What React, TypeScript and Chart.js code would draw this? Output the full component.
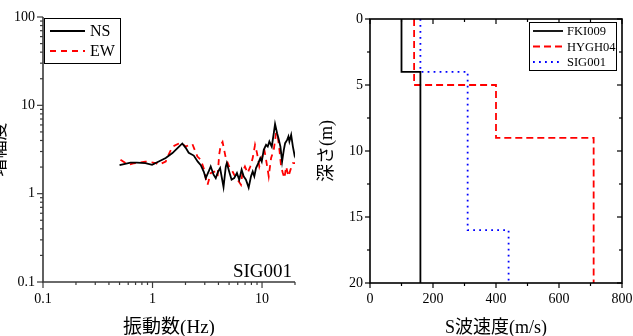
import React, { useEffect, useRef } from 'react';
import { Chart, registerables } from 'chart.js';

Chart.register(...registerables);

// ---------- Data: amplification spectra (SIG001) ----------
const NS_FREQ = [0.5, 0.63, 0.72, 0.86, 0.99, 1.14, 1.32, 1.52, 1.7, 1.87, 2.01, 2.14, 2.38, 2.59, 2.76, 2.94, 3.06, 3.28, 3.4, 3.61, 3.78, 3.97, 4.14, 4.45, 4.67, 4.77, 5.01, 5.27, 5.57, 5.9, 6.19, 6.51, 6.79, 7.13, 7.55, 7.93, 8.22, 8.5, 8.81, 9.25, 9.64, 9.94, 10.37, 10.89, 11.28, 11.67, 12.27, 12.8, 13.15, 13.73, 14.12, 14.72, 15.25, 15.81, 16.25, 16.95, 17.42, 17.78, 18.45, 19.13, 19.78, 20.0];
const NS_AMP = [2.1, 2.25, 2.25, 2.22, 2.12, 2.31, 2.53, 2.88, 3.3, 3.7, 3.3, 2.9, 2.7, 2.3, 2.1, 1.77, 1.5, 1.82, 2.03, 1.64, 1.5, 1.78, 1.95, 1.19, 2.03, 2.22, 1.78, 1.44, 1.5, 1.71, 1.44, 1.87, 1.57, 1.44, 1.17, 1.57, 1.78, 1.57, 1.95, 2.22, 2.53, 2.31, 3.13, 3.57, 3.41, 3.89, 3.41, 4.83, 6.15, 4.83, 4.25, 3.41, 2.31, 3.13, 3.73, 4.06, 4.43, 3.89, 4.63, 3.41, 2.75, 2.88];

const EW_FREQ = [0.51, 0.6, 0.67, 0.86, 1.07, 1.14, 1.32, 1.4, 1.52, 1.81, 2.01, 2.14, 2.31, 2.57, 2.76, 2.96, 3.06, 3.18, 3.4, 3.65, 3.93, 4.06, 4.2, 4.36, 4.51, 4.67, 5.01, 5.38, 5.57, 5.98, 6.42, 6.65, 6.98, 7.39, 7.81, 8.22, 8.63, 9.0, 9.45, 10.15, 10.5, 10.89, 11.51, 12.1, 12.8, 13.44, 13.93, 14.42, 14.94, 15.48, 16.03, 16.6, 17.42, 18.2, 19.13, 20.0];
const EW_AMP = [2.42, 2.12, 2.2, 2.31, 2.22, 2.12, 2.31, 2.75, 3.41, 3.79, 3.41, 3.55, 3.66, 2.63, 2.42, 1.87, 1.5, 1.26, 1.71, 1.78, 1.57, 2.75, 3.57, 3.85, 3.13, 2.53, 2.03, 1.78, 1.64, 1.44, 1.26, 1.78, 2.03, 1.71, 2.03, 2.53, 3.57, 2.88, 2.03, 2.75, 3.13, 2.42, 1.57, 2.53, 3.13, 4.9, 4.43, 3.13, 2.03, 1.71, 1.5, 2.03, 1.57, 1.87, 2.22, 2.22];

const FREQ_MAJOR = [0.1, 1, 10];
const FREQ_MINOR = [0.2, 0.3, 0.4, 0.5, 0.6, 0.7, 0.8, 0.9, 2, 3, 4, 5, 6, 7, 8, 9, 20];
const AMP_MAJOR = [0.1, 1, 10, 100];
const AMP_MINOR = [0.2, 0.3, 0.4, 0.5, 0.6, 0.7, 0.8, 0.9, 2, 3, 4, 5, 6, 7, 8, 9, 20, 30, 40, 50, 60, 70, 80, 90];

// ---------- Data: S-wave velocity profiles ----------
const FKI009_DEPTH = [0, 4, 20];
const FKI009_VS = [100, 160];
const HYGH04_DEPTH = [0, 5, 9, 20];
const HYGH04_VS = [140, 400, 710];
const SIG001_DEPTH = [0, 4, 16, 20];
const SIG001_VS = [160, 310, 440];

const VS_MAJOR = [0, 200, 400, 600, 800];
const VS_MINOR = [100, 300, 500, 700];
const DEPTH_MAJOR = [0, 5, 10, 15, 20];
const DEPTH_MINOR = [2.5, 7.5, 12.5, 17.5];

const FONT = "'Liberation Serif', 'Noto Sans CJK JP', serif";

function pairs(xs: number[], ys: number[]) {
  return xs.map((x, i) => ({ x, y: ys[i] }));
}

function stepProfile(depths: number[], vs: number[]) {
  const pts: { x: number; y: number }[] = [];
  vs.forEach((v, i) => {
    pts.push({ x: v, y: depths[i] });
    pts.push({ x: v, y: depths[i + 1] });
  });
  return pts;
}

function tickLine(ctx: CanvasRenderingContext2D, x1: number, y1: number, x2: number, y2: number) {
  ctx.beginPath();
  ctx.moveTo(x1, y1);
  ctx.lineTo(x2, y2);
  ctx.stroke();
}

function drawLegend(ctx: CanvasRenderingContext2D, chart: any, box: { x: number; y: number; w: number; h: number }, rows: number[], lineX: [number, number], textX: number, size: number) {
  ctx.save();
  ctx.fillStyle = '#fff';
  ctx.fillRect(box.x, box.y, box.w, box.h);
  ctx.strokeStyle = '#000';
  ctx.lineWidth = 1;
  ctx.strokeRect(box.x + 0.5, box.y + 0.5, box.w, box.h);
  chart.data.datasets.forEach((ds: any, i: number) => {
    const y = rows[i];
    ctx.strokeStyle = ds.borderColor;
    ctx.lineWidth = ds.borderWidth;
    ctx.setLineDash(ds.borderDash || []);
    tickLine(ctx, lineX[0], y, lineX[1], y);
    ctx.setLineDash([]);
    ctx.fillStyle = '#000';
    ctx.font = `${size}px ${FONT}`;
    ctx.textBaseline = 'middle';
    ctx.textAlign = 'left';
    ctx.fillText(ds.label, textX, y + 1);
  });
  ctx.restore();
}

const ampDecor = {
  id: 'ampDecor',
  afterDraw(chart: any) {
    const { ctx, chartArea: a, scales } = chart;
    const xs = scales.x;
    const ys = scales.y;
    ctx.save();
    ctx.strokeStyle = '#3a3a3a';
    ctx.lineWidth = 1.6;
    ctx.beginPath();
    ctx.moveTo(a.left, a.top);
    ctx.lineTo(a.left, a.bottom);
    ctx.lineTo(a.right, a.bottom);
    ctx.stroke();
    ctx.lineWidth = 1.2;
    FREQ_MAJOR.forEach((v) => { const p = xs.getPixelForValue(v); tickLine(ctx, p, a.bottom, p, a.bottom + 6); });
    FREQ_MINOR.forEach((v) => { const p = xs.getPixelForValue(v); tickLine(ctx, p, a.bottom, p, a.bottom + 3); });
    AMP_MAJOR.forEach((v) => { const p = ys.getPixelForValue(v); tickLine(ctx, a.left, p, a.left - 6, p); });
    AMP_MINOR.forEach((v) => { const p = ys.getPixelForValue(v); tickLine(ctx, a.left, p, a.left - 3, p); });
    ctx.restore();

    drawLegend(ctx, chart, { x: a.left + 1, y: a.top + 1, w: 76, h: 45 }, [a.top + 14, a.top + 34], [a.left + 7, a.left + 42], a.left + 47, 16);

    ctx.save();
    ctx.fillStyle = '#000';
    ctx.font = `19px ${FONT}`;
    ctx.textAlign = 'right';
    ctx.textBaseline = 'alphabetic';
    ctx.fillText('SIG001', a.right - 3, a.bottom - 5);
    ctx.restore();
  },
};

const vsDecor = {
  id: 'vsDecor',
  afterDraw(chart: any) {
    const { ctx, chartArea: a, scales } = chart;
    const xs = scales.x;
    const ys = scales.y;
    ctx.save();
    ctx.strokeStyle = '#000';
    ctx.lineWidth = 1.6;
    ctx.strokeRect(a.left, a.top, a.right - a.left, a.bottom - a.top);
    ctx.lineWidth = 1.2;
    VS_MAJOR.forEach((v) => {
      const p = xs.getPixelForValue(v);
      tickLine(ctx, p, a.bottom, p, a.bottom + 5);
      tickLine(ctx, p, a.top, p, a.top + 5);
    });
    VS_MINOR.forEach((v) => {
      const p = xs.getPixelForValue(v);
      tickLine(ctx, p, a.bottom, p, a.bottom + 3);
      tickLine(ctx, p, a.top, p, a.top + 3);
    });
    DEPTH_MAJOR.forEach((v) => {
      const p = ys.getPixelForValue(v);
      tickLine(ctx, a.left, p, a.left - 5, p);
      tickLine(ctx, a.right, p, a.right - 5, p);
    });
    DEPTH_MINOR.forEach((v) => {
      const p = ys.getPixelForValue(v);
      tickLine(ctx, a.left, p, a.left - 3, p);
      tickLine(ctx, a.right, p, a.right - 3, p);
    });
    ctx.restore();

    drawLegend(ctx, chart, { x: a.right - 93, y: a.top + 3, w: 87, h: 48 }, [a.top + 12, a.top + 27.5, a.top + 43], [a.right - 89, a.right - 59], a.right - 55, 12.5);
  },
};

const HIDDEN_GRID = { display: false, drawTicks: false, tickLength: 0 };

function ampConfig(): any {
  return {
    type: 'line',
    data: {
      datasets: [
        { label: 'NS', data: pairs(NS_FREQ, NS_AMP), borderColor: '#000000', borderWidth: 1.8, pointRadius: 0, fill: false, tension: 0 },
        { label: 'EW', data: pairs(EW_FREQ, EW_AMP), borderColor: '#ff0000', borderWidth: 1.8, borderDash: [6, 5], pointRadius: 0, fill: false, tension: 0 },
      ],
    },
    options: {
      animation: false,
      responsive: false,
      events: [],
      layout: { padding: { left: 0, top: 17, right: 21, bottom: 0 } },
      plugins: { legend: { display: false }, tooltip: { enabled: false } },
      scales: {
        x: {
          type: 'logarithmic',
          min: 0.1,
          max: 20,
          grid: HIDDEN_GRID,
          border: { display: false },
          afterBuildTicks: (s: any) => {
            s.ticks = [...FREQ_MAJOR, ...FREQ_MINOR].sort((p, q) => p - q).map((v) => ({ value: v }));
          },
          afterFit: (s: any) => { s.height = 54; s.paddingLeft = 0; s.paddingRight = 0; },
          ticks: {
            autoSkip: false,
            maxRotation: 0,
            padding: 9,
            color: '#000',
            font: { family: FONT, size: 14 },
            callback: (v: number) => (FREQ_MAJOR.includes(v) ? String(v) : ''),
          },
          title: { display: true, text: '振動数(Hz)', color: '#000', font: { family: FONT, size: 19 }, padding: { top: 0, bottom: -3 } },
        },
        y: {
          type: 'logarithmic',
          min: 0.1,
          max: 100,
          grid: HIDDEN_GRID,
          border: { display: false },
          afterBuildTicks: (s: any) => {
            s.ticks = [...AMP_MAJOR, ...AMP_MINOR].sort((p, q) => p - q).map((v) => ({ value: v }));
          },
          afterFit: (s: any) => { s.width = 54; s.paddingTop = 0; s.paddingBottom = 0; },
          ticks: {
            autoSkip: false,
            padding: 8,
            color: '#000',
            font: { family: FONT, size: 14 },
            callback: (v: number) => (AMP_MAJOR.includes(v) ? String(v) : ''),
          },
          title: { display: true, text: '増幅度', color: '#000', font: { family: FONT, size: 18 }, padding: { top: 0, bottom: 0 } },
        },
      },
    },
    plugins: [ampDecor],
  };
}

function vsConfig(): any {
  return {
    type: 'scatter',
    data: {
      datasets: [
        { label: 'FKI009', data: stepProfile(FKI009_DEPTH, FKI009_VS), showLine: true, borderColor: '#000000', borderWidth: 1.8, pointRadius: 0, fill: false },
        { label: 'HYGH04', data: stepProfile(HYGH04_DEPTH, HYGH04_VS), showLine: true, borderColor: '#ff0000', borderWidth: 1.8, borderDash: [7, 4], pointRadius: 0, fill: false },
        { label: 'SIG001', data: stepProfile(SIG001_DEPTH, SIG001_VS), showLine: true, borderColor: '#0000ff', borderWidth: 1.8, borderDash: [1.8, 4.2], pointRadius: 0, fill: false },
      ],
    },
    options: {
      animation: false,
      responsive: false,
      events: [],
      layout: { padding: { left: 0, top: 19, right: 11, bottom: 0 } },
      plugins: { legend: { display: false }, tooltip: { enabled: false } },
      scales: {
        x: {
          type: 'linear',
          min: 0,
          max: 800,
          grid: HIDDEN_GRID,
          border: { display: false },
          afterFit: (s: any) => { s.height = 53; s.paddingLeft = 0; s.paddingRight = 0; },
          ticks: { stepSize: 200, autoSkip: false, maxRotation: 0, padding: 8, color: '#000', font: { family: FONT, size: 14 } },
          title: { display: true, text: 'S波速度(m/s)', color: '#000', font: { family: FONT, size: 18 }, padding: { top: 0, bottom: -3 } },
        },
        y: {
          type: 'linear',
          min: 0,
          max: 20,
          reverse: true,
          grid: HIDDEN_GRID,
          border: { display: false },
          afterFit: (s: any) => { s.width = 54; s.paddingTop = 0; s.paddingBottom = 0; },
          ticks: { stepSize: 5, autoSkip: false, padding: 7, color: '#000', font: { family: FONT, size: 14 } },
          title: { display: true, text: '深さ(m)', color: '#000', font: { family: FONT, size: 18 }, padding: { top: 0, bottom: 0 } },
        },
      },
    },
    plugins: [vsDecor],
  };
}

function ChartCanvas({ make, left, width, height }: { make: () => any; left: number; width: number; height: number }) {
  const ref = useRef<HTMLCanvasElement | null>(null);
  useEffect(() => {
    if (!ref.current) return;
    const chart = new Chart(ref.current, make());
    return () => chart.destroy();
  }, [make]);
  return (
    <canvas
      ref={ref}
      width={width}
      height={height}
      style={{ position: 'absolute', left, top: 0, width, height, display: 'block' }}
    />
  );
}

export default function App() {
  return (
    <div style={{ position: 'fixed', left: 0, top: 0, width: 633, height: 336, overflow: 'hidden', background: '#fff' }}>
      <ChartCanvas make={ampConfig} left={-11} width={327} height={336} />
      <ChartCanvas make={vsConfig} left={316} width={317} height={336} />
    </div>
  );
}
